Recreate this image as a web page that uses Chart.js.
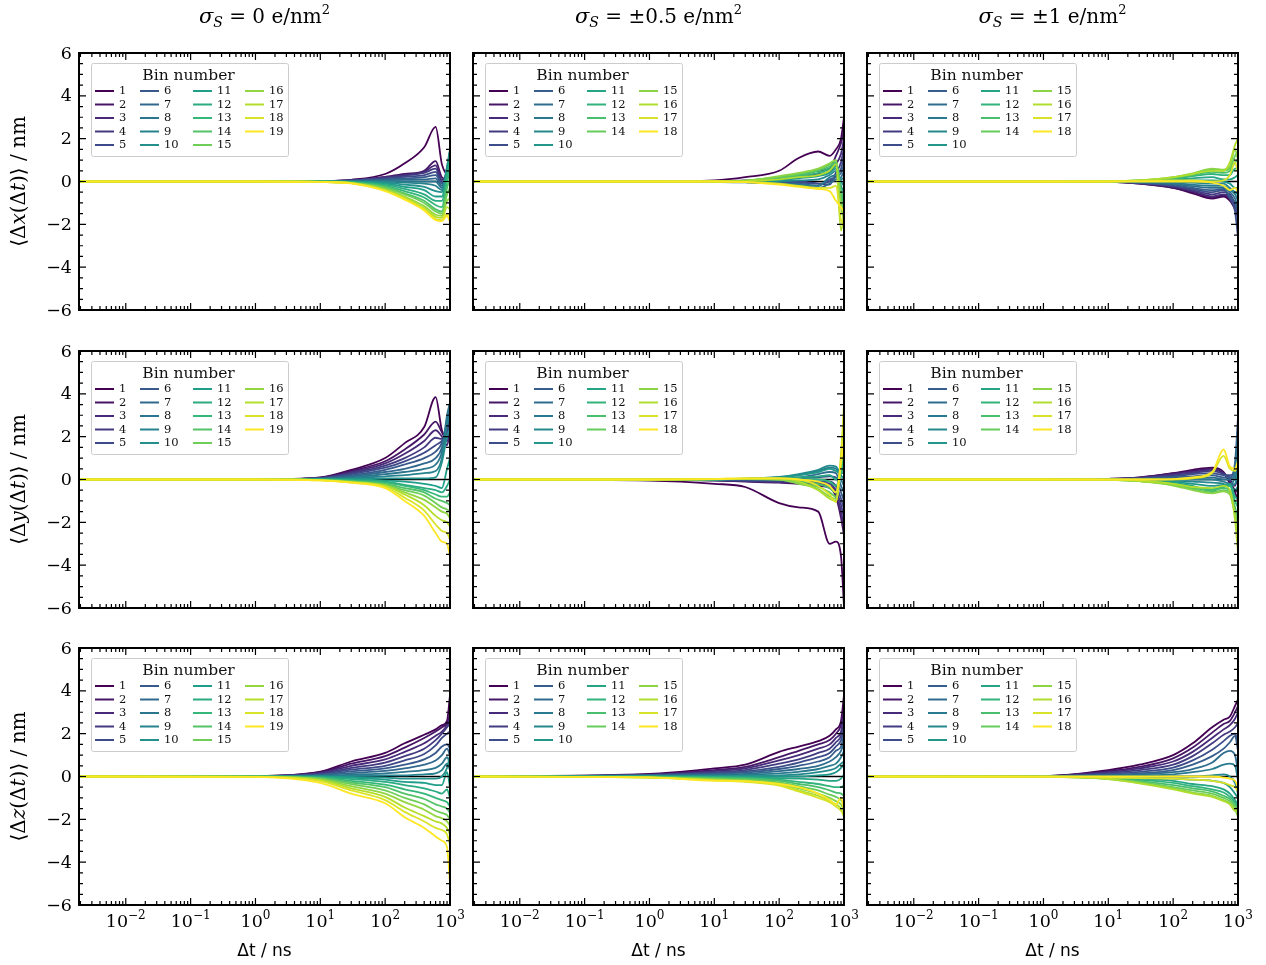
<!DOCTYPE html>
<html>
<head>
<meta charset="utf-8">
<script src="https://cdn.jsdelivr.net/npm/chart.js@4.4.0/dist/chart.umd.min.js"></script>
<style>
  html, body { margin: 0; padding: 0; background: #fff; }
  #fig { position: relative; width: 1266px; height: 965px; overflow: hidden; }
  #fig canvas { position: absolute; }
</style>
</head>
<body>
<div id="fig"></div>
<script>
const T = [0.002, 1, 10, 30, 100, 200, 400, 600, 750, 900, 1000];

// <dx(dt)>, one row per bin
const dxS0 = [
  [0, 0, 0.02, 0.08, 0.35, 0.85, 1.6, 2.55, 0.8, 0.3, 0.2],
  [0, 0, 0.02, 0.06, 0.22, 0.35, 0.5, 0.95, 0.2, 0.1, 0.5],
  [0, 0, 0.02, 0.05, 0.2, 0.3, 0.45, 0.75, 0.1, 0.2, 0.6],
  [0, 0, 0.01, 0.05, 0.18, 0.28, 0.4, 0.6, 0.0, 0.3, 0.8],
  [0, 0, 0.01, 0.04, 0.15, 0.22, 0.3, 0.45, -0.1, 0.4, 1.0],
  [0, 0, 0.01, 0.03, 0.1, 0.15, 0.2, 0.3, -0.1, 0.5, 1.2],
  [0, 0, 0.01, 0.02, 0.06, 0.1, 0.1, 0.15, -0.2, 0.6, 1.3],
  [0, 0, 0, 0.01, 0.03, 0.02, 0.0, 0.0, -0.3, 0.6, 1.4],
  [0, 0, 0, 0, 0, -0.05, -0.1, -0.2, -0.4, 0.7, 1.5],
  [0, 0, 0, -0.01, -0.05, -0.15, -0.25, -0.45, -0.5, 0.6, 1.4],
  [0, 0, 0, -0.02, -0.1, -0.25, -0.4, -0.7, -0.7, 0.5, 1.3],
  [0, 0, 0, -0.03, -0.15, -0.35, -0.6, -0.9, -0.9, 0.3, 1.0],
  [0, 0, -0.01, -0.04, -0.2, -0.45, -0.75, -1.1, -1.2, 0.0, 0.6],
  [0, 0, -0.01, -0.05, -0.25, -0.55, -0.9, -1.3, -1.4, -0.3, 0.2],
  [0, 0, -0.01, -0.06, -0.3, -0.6, -1.0, -1.4, -1.5, -0.6, -0.3],
  [0, 0, -0.02, -0.07, -0.35, -0.7, -1.15, -1.55, -1.6, -0.9, -0.8],
  [0, 0, -0.02, -0.08, -0.4, -0.75, -1.25, -1.65, -1.7, -1.2, -1.3],
  [0, 0, -0.02, -0.08, -0.42, -0.8, -1.3, -1.75, -1.8, -1.5, -1.6],
  [0, 0, -0.02, -0.09, -0.45, -0.85, -1.35, -1.8, -1.85, -1.6, -1.9]
];
const dxS05 = [
  [0, 0, 0.05, 0.2, 0.5, 1.1, 1.4, 1.2, 1.5, 2.0, 3.0],
  [0, 0, 0.02, 0.05, 0.15, 0.3, 0.5, 0.6, 1.2, 1.8, 2.4],
  [0, 0, 0.01, 0.03, 0.1, 0.2, 0.35, 0.45, 0.8, 1.3, 2.0],
  [0, 0, 0, 0, 0, 0, -0.1, -0.15, 0.4, 0.9, 1.6],
  [0, 0, -0.02, -0.03, -0.05, -0.05, -0.1, 0, 0.3, 0.6, 1.2],
  [0, 0, -0.02, -0.03, -0.08, -0.1, -0.2, 0.1, 0.2, 0.4, 0.8],
  [0, 0, -0.02, -0.04, -0.1, -0.15, -0.3, -0.1, 0.1, 0.2, 0.5],
  [0, 0, -0.02, -0.03, -0.1, -0.15, -0.2, 0.2, 0.3, 0.1, 0.2],
  [0, 0, -0.01, -0.02, 0, 0.05, 0.1, 0.3, 0.5, 0, -0.2],
  [0, 0, 0, 0, 0.05, 0.15, 0.25, 0.4, 0.6, -0.2, -0.5],
  [0, 0, 0, 0.02, 0.1, 0.2, 0.3, 0.5, 0.7, -0.5, -0.8],
  [0, 0, 0, 0.03, 0.15, 0.25, 0.4, 0.6, 0.8, -0.6, -1.0],
  [0, 0, 0, 0.03, 0.2, 0.3, 0.5, 0.7, 0.9, -0.4, -1.2],
  [0, 0, 0.01, 0.04, 0.2, 0.35, 0.55, 0.8, 1.0, -0.8, -1.5],
  [0, 0, 0.01, 0.04, 0.25, 0.4, 0.6, 0.85, 1.0, -1.2, -1.8],
  [0, 0, 0, 0.02, 0.1, 0.2, 0.3, 0.5, 0.8, -2.3, -1.5],
  [0, 0, 0, -0.02, -0.1, -0.2, -0.3, -0.3, -0.2, -1.8, -2.0],
  [0, 0, 0, -0.03, -0.15, -0.25, -0.35, -0.45, -0.9, -1.2, -1.4]
];
const dxS1 = [
  [0, 0, -0.02, -0.1, -0.3, -0.55, -0.8, -0.7, -0.9, -1.3, -1.6],
  [0, 0, -0.02, -0.1, -0.3, -0.5, -0.75, -0.65, -0.8, -1.2, -1.4],
  [0, 0, -0.02, -0.08, -0.25, -0.45, -0.7, -0.6, -0.7, -1.0, -1.2],
  [0, 0, -0.02, -0.07, -0.22, -0.4, -0.6, -0.5, -0.6, -1.1, -1.8],
  [0, 0, -0.01, -0.06, -0.2, -0.35, -0.5, -0.4, -0.8, -1.4, -2.6],
  [0, 0, -0.01, -0.05, -0.15, -0.3, -0.4, -0.35, -0.7, -1.0, -1.5],
  [0, 0, -0.01, -0.04, -0.12, -0.22, -0.3, -0.3, -0.5, -0.8, -1.2],
  [0, 0, 0, -0.02, -0.08, -0.15, -0.2, -0.2, -0.4, -0.6, -0.9],
  [0, 0, 0, -0.01, -0.03, -0.05, -0.1, -0.1, -0.3, -0.5, -0.6],
  [0, 0, 0, 0, 0.02, 0.05, 0.05, 0, -0.1, -0.3, -0.3],
  [0, 0, 0, 0.02, 0.08, 0.15, 0.2, 0.1, 0.1, 0.2, 0.3],
  [0, 0, 0.01, 0.03, 0.12, 0.25, 0.35, 0.3, 0.3, 0.6, 0.6],
  [0, 0, 0.01, 0.04, 0.15, 0.3, 0.45, 0.4, 0.5, 0.9, 1.0],
  [0, 0, 0.01, 0.05, 0.18, 0.35, 0.55, 0.5, 0.6, 1.2, 1.4],
  [0, 0, 0.01, 0.05, 0.2, 0.38, 0.6, 0.55, 0.7, 1.5, 1.0],
  [0, 0, 0.01, 0.05, 0.2, 0.35, 0.5, 0.5, 0.9, 1.7, 2.0],
  [0, 0, 0, 0.02, 0.05, 0.05, 0, 0.05, 0.3, 0.9, 0.4],
  [0, 0, 0, 0, 0, 0, -0.05, -0.2, -0.4, -0.3, -0.5]
];

// <dy(dt)>
const dyS0 = [
  [0, 0, 0.1, 0.45, 1.0, 1.7, 2.45, 3.85, 2.3, 2.0, 2.5],
  [0, 0, 0.09, 0.4, 0.85, 1.4, 2.1, 2.7, 2.2, 1.8, 2.0],
  [0, 0, 0.08, 0.35, 0.75, 1.2, 1.8, 2.3, 2.0, 1.6, 2.2],
  [0, 0, 0.07, 0.3, 0.65, 1.0, 1.5, 1.95, 1.9, 1.9, 2.6],
  [0, 0, 0.06, 0.25, 0.55, 0.85, 1.25, 1.6, 1.8, 2.2, 3.0],
  [0, 0, 0.05, 0.2, 0.45, 0.7, 1.0, 1.3, 1.7, 2.5, 3.2],
  [0, 0, 0.04, 0.15, 0.35, 0.5, 0.75, 1.0, 1.5, 2.8, 3.5],
  [0, 0, 0.03, 0.1, 0.25, 0.35, 0.5, 0.7, 1.3, 3.0, 3.6],
  [0, 0, 0.02, 0.06, 0.15, 0.2, 0.3, 0.4, 1.0, 2.6, 3.0],
  [0, 0, 0.01, 0.03, 0.05, 0.05, 0.05, 0.1, 0.8, 2.0, 2.4],
  [0, 0, 0, 0, -0.05, -0.1, -0.2, -0.3, -0.4, 0.5, 1.0],
  [0, 0, 0, -0.03, -0.1, -0.25, -0.4, -0.5, -0.6, -0.3, 0.0],
  [0, 0, -0.01, -0.05, -0.15, -0.3, -0.5, -0.7, -0.8, -0.8, -0.6],
  [0, 0, -0.02, -0.08, -0.2, -0.4, -0.6, -0.9, -1.0, -1.1, -1.2],
  [0, 0, -0.02, -0.1, -0.25, -0.5, -0.75, -1.1, -1.3, -1.4, -1.5],
  [0, 0, -0.03, -0.12, -0.28, -0.6, -0.95, -1.3, -1.5, -1.6, -1.8],
  [0, 0, -0.03, -0.13, -0.3, -0.7, -1.2, -1.7, -1.9, -2.0, -2.2],
  [0, 0, -0.04, -0.14, -0.35, -0.85, -1.45, -2.1, -2.4, -2.5, -2.8],
  [0, 0, -0.04, -0.15, -0.4, -1.0, -1.7, -2.5, -2.9, -3.0, -3.6]
];
const dyS05 = [
  [0, -0.05, -0.2, -0.35, -1.1, -1.3, -1.5, -3.0, -2.9, -3.6, -5.9],
  [0, 0, -0.05, -0.1, -0.15, -0.2, -0.3, -0.4, -0.8, -1.8, -2.6],
  [0, 0, -0.04, -0.08, -0.12, -0.15, -0.2, -0.3, -0.6, -1.5, -2.2],
  [0, 0, -0.03, -0.06, -0.1, -0.1, -0.15, -0.2, -0.5, -1.2, -1.8],
  [0, 0, -0.02, -0.04, -0.05, -0.05, -0.1, -0.1, -0.3, -0.9, -1.4],
  [0, 0, -0.01, 0, 0, 0.05, 0.1, 0.15, 0.1, -0.6, -1.0],
  [0, 0, 0, 0.02, 0.05, 0.1, 0.25, 0.35, 0.3, -0.3, -0.6],
  [0, 0, 0, 0.03, 0.1, 0.2, 0.4, 0.55, 0.5, 0, -0.3],
  [0, 0, 0.01, 0.04, 0.12, 0.25, 0.45, 0.65, 0.6, 0.2, 0],
  [0, 0, 0.01, 0.04, 0.1, 0.2, 0.35, 0.5, 0.4, 0.3, 0.3],
  [0, 0, 0.01, 0.03, 0.05, 0.1, 0.15, 0.2, 0.0, 0.3, 0.6],
  [0, 0, 0.01, 0.02, 0.02, 0, 0, -0.1, -0.3, 0.4, 1.0],
  [0, 0, 0.01, 0.02, 0, -0.1, -0.2, -0.4, -0.6, 0.5, 1.5],
  [0, 0, 0.01, 0.02, 0, -0.15, -0.35, -0.6, -0.8, 0.6, 2.0],
  [0, 0, 0.02, 0.03, 0, -0.2, -0.45, -0.8, -0.9, 0.8, 2.5],
  [0, 0, 0.02, 0.04, 0.05, -0.1, -0.5, -0.9, -1.0, 1.0, 3.0],
  [0, 0, 0.02, 0.05, 0.05, 0, -0.3, -0.7, -1.05, 1.2, 3.5],
  [0, 0, 0.02, 0.05, 0.05, 0, -0.1, -0.3, -0.6, 0.8, 2.0]
];
const dyS1 = [
  [0, 0, 0.03, 0.1, 0.3, 0.45, 0.55, 0.35, -0.2, -0.6, -1.0],
  [0, 0, 0.03, 0.09, 0.28, 0.4, 0.5, 0.3, -0.1, -0.5, -0.6],
  [0, 0, 0.02, 0.08, 0.25, 0.35, 0.45, 0.3, 0, -0.3, 0.2],
  [0, 0, 0.02, 0.07, 0.2, 0.3, 0.4, 0.25, 0.1, 0, 1.0],
  [0, 0, 0.02, 0.05, 0.15, 0.25, 0.3, 0.2, 0.2, 0.5, 2.0],
  [0, 0, 0.01, 0.04, 0.1, 0.15, 0.2, 0.1, 0.1, 0.8, 2.9],
  [0, 0, 0.01, 0.02, 0.05, 0.05, 0.1, 0, 0, 0.5, 2.4],
  [0, 0, 0, 0, 0, 0, 0, -0.1, -0.2, 0.2, 1.5],
  [0, 0, 0, -0.02, -0.05, -0.1, -0.15, -0.2, -0.3, -0.2, 0.5],
  [0, 0, 0, -0.03, -0.1, -0.2, -0.3, -0.25, -0.3, -0.5, -0.3],
  [0, 0, -0.01, -0.05, -0.15, -0.3, -0.55, -0.3, -0.2, -0.8, -0.9],
  [0, 0, -0.01, -0.06, -0.2, -0.35, -0.45, -0.35, -0.3, -1.0, -1.3],
  [0, 0, -0.02, -0.07, -0.22, -0.4, -0.5, -0.4, -0.5, -1.3, -1.8],
  [0, 0, -0.02, -0.08, -0.25, -0.45, -0.6, -0.5, -0.6, -1.5, -2.2],
  [0, 0, -0.02, -0.08, -0.28, -0.5, -0.65, -0.55, -0.7, -1.7, -2.6],
  [0, 0, -0.02, -0.07, -0.2, -0.35, -0.4, -0.3, -0.5, -1.9, -3.4],
  [0, 0, 0, 0, 0, 0.05, 0.3, 1.1, 0.5, 0.4, 0.7],
  [0, 0, 0, 0, 0.02, 0.1, 0.35, 1.4, 0.6, 0.5, 0.9]
];

// <dz(dt)>
const dzS0 = [
  [0, 0.02, 0.23, 0.7, 1.1, 1.55, 1.95, 2.2, 2.4, 2.6, 3.8],
  [0, 0.02, 0.2, 0.6, 0.95, 1.35, 1.8, 2.1, 2.3, 2.5, 2.9],
  [0, 0.02, 0.17, 0.5, 0.8, 1.15, 1.55, 1.9, 2.1, 2.4, 2.7],
  [0, 0.01, 0.14, 0.4, 0.65, 0.95, 1.3, 1.7, 2.0, 2.3, 2.5],
  [0, 0.01, 0.11, 0.32, 0.5, 0.75, 1.05, 1.45, 1.8, 2.0, 2.1],
  [0, 0.01, 0.08, 0.24, 0.38, 0.55, 0.8, 1.1, 1.4, 1.5, 1.3],
  [0, 0.01, 0.06, 0.16, 0.26, 0.38, 0.55, 0.75, 1.0, 1.3, 1.0],
  [0, 0, 0.03, 0.09, 0.15, 0.22, 0.3, 0.4, 0.6, 0.9, 0.6],
  [0, 0, 0.01, 0.03, 0.05, 0.05, 0.1, 0.15, 0.3, 0.6, 0.3],
  [0, 0, 0, -0.02, -0.05, -0.1, -0.1, -0.1, 0, 0.4, 1.0],
  [0, 0, -0.01, -0.06, -0.15, -0.25, -0.3, -0.4, -0.4, 0.2, -0.5],
  [0, 0, -0.03, -0.12, -0.25, -0.4, -0.55, -0.7, -0.8, -0.6, -1.0],
  [0, -0.01, -0.05, -0.2, -0.38, -0.6, -0.8, -1.0, -1.1, -1.2, -1.4],
  [0, -0.01, -0.08, -0.28, -0.5, -0.8, -1.05, -1.3, -1.4, -1.5, -1.7],
  [0, -0.01, -0.11, -0.36, -0.65, -1.0, -1.3, -1.6, -1.7, -1.8, -2.0],
  [0, -0.01, -0.14, -0.45, -0.8, -1.2, -1.55, -1.85, -1.95, -2.1, -2.3],
  [0, -0.02, -0.18, -0.55, -0.95, -1.45, -1.85, -2.1, -2.2, -2.4, -2.7],
  [0, -0.02, -0.22, -0.65, -1.1, -1.65, -2.1, -2.4, -2.5, -2.7, -3.2],
  [0, -0.02, -0.3, -0.8, -1.25, -1.9, -2.4, -2.8, -3.0, -3.3, -5.0]
];
const dzS05 = [
  [0, 0.12, 0.38, 0.55, 1.15, 1.4, 1.65, 1.9, 2.2, 2.6, 3.8],
  [0, 0.1, 0.3, 0.45, 0.9, 1.2, 1.5, 1.7, 2.0, 2.4, 3.2],
  [0, 0.08, 0.25, 0.38, 0.75, 1.0, 1.3, 1.5, 1.8, 2.1, 2.9],
  [0, 0.07, 0.2, 0.3, 0.6, 0.8, 1.1, 1.3, 1.6, 1.9, 2.6],
  [0, 0.06, 0.16, 0.24, 0.45, 0.65, 0.9, 1.1, 1.4, 1.7, 2.3],
  [0, 0.05, 0.12, 0.18, 0.35, 0.5, 0.7, 0.9, 1.2, 1.4, 2.0],
  [0, 0.04, 0.08, 0.12, 0.25, 0.35, 0.5, 0.7, 0.9, 1.2, 1.6],
  [0, 0.03, 0.05, 0.08, 0.15, 0.22, 0.35, 0.5, 0.6, 0.9, 1.2],
  [0, 0.01, 0.02, 0.03, 0.05, 0.1, 0.2, 0.3, 0.4, 0.6, 0.7],
  [0, 0, 0, 0, 0, 0, 0.05, 0.1, 0.2, 0.4, 0.6],
  [0, 0, -0.02, -0.03, -0.08, -0.1, -0.15, -0.2, -0.2, -0.1, 0.1],
  [0, -0.01, -0.04, -0.06, -0.15, -0.25, -0.35, -0.45, -0.5, -0.5, -0.4],
  [0, -0.02, -0.07, -0.1, -0.2, -0.35, -0.5, -0.65, -0.75, -0.8, -0.9],
  [0, -0.03, -0.1, -0.14, -0.28, -0.45, -0.65, -0.85, -0.95, -1.1, -1.3],
  [0, -0.04, -0.13, -0.18, -0.33, -0.55, -0.8, -1.0, -1.15, -1.3, -1.6],
  [0, -0.05, -0.16, -0.22, -0.38, -0.65, -0.9, -1.15, -1.3, -1.5, -1.9],
  [0, -0.05, -0.18, -0.25, -0.42, -0.7, -1.0, -1.2, -1.4, -1.6, -1.8],
  [0, -0.04, -0.2, -0.22, -0.35, -0.5, -0.8, -1.1, -1.3, -1.0, -1.6]
];
const dzS1 = [
  [0, 0.02, 0.3, 0.55, 1.0, 1.55, 2.3, 2.65, 2.8, 3.3, 3.6],
  [0, 0.02, 0.25, 0.45, 0.85, 1.35, 2.05, 2.45, 2.6, 3.0, 3.3],
  [0, 0.02, 0.2, 0.38, 0.7, 1.15, 1.8, 2.2, 2.4, 2.7, 3.0],
  [0, 0.01, 0.16, 0.3, 0.55, 0.95, 1.55, 1.95, 2.1, 2.3, 2.5],
  [0, 0.01, 0.12, 0.22, 0.42, 0.75, 1.25, 1.65, 1.9, 2.0, 1.6],
  [0, 0.01, 0.08, 0.15, 0.3, 0.55, 0.95, 1.3, 1.6, 1.9, 1.2],
  [0, 0.01, 0.05, 0.1, 0.2, 0.35, 0.65, 1.1, 1.2, 1.0, 0.2],
  [0, 0, 0.02, 0.05, 0.1, 0.2, 0.35, 0.55, 0.6, 0.5, -0.2],
  [0, 0, 0, 0, 0, 0, 0.05, 0.1, 0, -0.3, -0.8],
  [0, 0, -0.02, -0.05, -0.1, -0.15, -0.2, -0.3, -0.5, -0.8, -1.0],
  [0, 0, -0.04, -0.1, -0.2, -0.35, -0.45, -0.6, -0.8, -1.1, -1.3],
  [0, -0.01, -0.06, -0.15, -0.3, -0.45, -0.6, -0.75, -0.95, -1.2, -1.5],
  [0, -0.01, -0.08, -0.2, -0.4, -0.55, -0.7, -0.9, -1.05, -1.3, -1.6],
  [0, -0.01, -0.1, -0.25, -0.5, -0.65, -0.8, -1.0, -1.15, -1.4, -1.7],
  [0, -0.02, -0.12, -0.3, -0.55, -0.75, -0.9, -1.1, -1.25, -1.55, -1.9],
  [0, -0.02, -0.12, -0.32, -0.6, -0.8, -0.95, -1.15, -1.3, -1.6, -1.5],
  [0, -0.01, -0.05, -0.08, -0.1, -0.15, -0.2, -0.3, -0.4, -0.5, -0.7],
  [0, 0, 0, 0, 0, 0, 0, -0.05, -0.1, -0.2, -0.5]
];

const PANELS = [
  [dxS0, dxS05, dxS1],
  [dyS0, dyS05, dyS1],
  [dzS0, dzS05, dzS1]
];
const SIGMA_VALUES = ['0', '\u00b10.5', '\u00b11'];
const AXIS_NAMES = ['x', 'y', 'z'];
const X_MAJOR = [0.01, 0.1, 1, 10, 100, 1000];
const X_EXP = ['\u22122', '\u22121', '0', '1', '2', '3'];
const Y_MAJOR = [-6, -4, -2, 0, 2, 4, 6];
const Y_LABELS = ['\u22126', '\u22124', '\u22122', '0', '2', '4', '6'];

const VIRIDIS = ['#440154', '#482878', '#3e4989', '#31688e', '#26828e',
                 '#1f9e89', '#35b779', '#6ece58', '#b5de2b', '#fde725'];

const SERIF = '"DejaVu Serif", serif';
const SANS = '"DejaVu Sans", sans-serif';

// layout (pixels)
const COL_X = [79, 473, 867];
const ROW_Y = [53, 351, 648];
const PLOT_W = 371;
const PLOT_H = 257;

function hexRgb(h) {
  return [1, 3, 5].map(i => parseInt(h.substr(i, 2), 16));
}

function viridis(f) {
  const p = f * (VIRIDIS.length - 1);
  const i = Math.min(Math.floor(p), VIRIDIS.length - 2);
  const k = p - i;
  const a = hexRgb(VIRIDIS[i]), b = hexRgb(VIRIDIS[i + 1]);
  const c = a.map((v, j) => Math.round(v + (b[j] - v) * k));
  return `rgb(${c[0]},${c[1]},${c[2]})`;
}

function drawRuns(ctx, runs, x, y) {
  let total = 0;
  runs.forEach(r => { ctx.font = r.font; r.w = ctx.measureText(r.t).width; total += r.w; });
  let cx = x - total / 2;
  ctx.textAlign = 'left';
  runs.forEach(r => { ctx.font = r.font; ctx.fillText(r.t, cx, y + (r.dy || 0)); cx += r.w; });
}

const decor = {
  id: 'decor',
  afterDatasetsDraw(chart, args, opts) {
    const { ctx, chartArea: a, scales: { x, y } } = chart;
    const row = opts.row, col = opts.col;
    ctx.save();

    // inward ticks on all four sides
    ctx.strokeStyle = '#000';
    ctx.lineWidth = 1.2;
    ctx.beginPath();
    const xMinor = [];
    [0.001, 0.01, 0.1, 1, 10, 100].forEach(d => {
      for (let m = 2; m <= 9; m++) xMinor.push(d * m);
    });
    const xTick = (v, len) => {
      const px = x.getPixelForValue(v);
      if (px < a.left - 0.5 || px > a.right + 0.5) return;
      ctx.moveTo(px, a.bottom); ctx.lineTo(px, a.bottom - len);
      ctx.moveTo(px, a.top); ctx.lineTo(px, a.top + len);
    };
    const yTick = (v, len) => {
      const py = y.getPixelForValue(v);
      ctx.moveTo(a.left, py); ctx.lineTo(a.left + len, py);
      ctx.moveTo(a.right, py); ctx.lineTo(a.right - len, py);
    };
    X_MAJOR.forEach(v => xTick(v, 7));
    xMinor.forEach(v => xTick(v, 4));
    for (let v = -6; v <= 6; v += 0.5) yTick(v, v % 2 === 0 ? 7 : 4);
    ctx.stroke();

    // frame
    ctx.lineWidth = 2;
    ctx.strokeRect(a.left, a.top, a.right - a.left, a.bottom - a.top);

    // legend
    const ds = chart.data.datasets.filter(d => !d.isZero);
    const n = ds.length;
    const bx = a.left + 12, by = a.top + 10, bw = 197, bh = 93;
    ctx.fillStyle = 'rgba(255,255,255,0.8)';
    ctx.strokeStyle = '#cccccc';
    ctx.lineWidth = 1;
    ctx.beginPath();
    ctx.roundRect(bx + 0.5, by + 0.5, bw, bh, 2);
    ctx.fill();
    ctx.stroke();
    ctx.fillStyle = '#111';
    ctx.textBaseline = 'middle';
    ctx.textAlign = 'center';
    ctx.font = `15.5px ${SERIF}`;
    ctx.fillText('Bin number', bx + bw / 2 - 1, by + 13);
    const colOff = [4, 49, 102, 154];
    const nrows = Math.ceil(n / 4);
    const full = n % 4 === 0 ? 4 : n % 4;
    let idx = 0;
    ctx.font = `11.5px ${SERIF}`;
    ctx.textAlign = 'left';
    for (let c = 0; c < 4; c++) {
      const cnt = c < full ? nrows : nrows - 1;
      for (let r = 0; r < cnt; r++, idx++) {
        const d = ds[idx];
        const hx = bx + colOff[c], hy = by + 28 + r * 13.5;
        ctx.strokeStyle = d.borderColor;
        ctx.lineWidth = 2;
        ctx.beginPath();
        ctx.moveTo(hx, hy); ctx.lineTo(hx + 19, hy);
        ctx.stroke();
        ctx.fillStyle = '#111';
        ctx.fillText(d.label, hx + 24, hy + 0.5);
      }
    }

    ctx.fillStyle = '#000';
    // y tick labels and y title on the first column
    if (col === 0) {
      ctx.textBaseline = 'middle';
      ctx.textAlign = 'right';
      ctx.font = `17.5px ${SERIF}`;
      Y_MAJOR.forEach((v, i) => ctx.fillText(Y_LABELS[i], a.left - 7, y.getPixelForValue(v) + 1));
      ctx.save();
      ctx.translate(a.left - 59, (a.top + a.bottom) / 2);
      ctx.rotate(-Math.PI / 2);
      const f = `20px ${SERIF}`, fi = `italic 20px ${SERIF}`;
      drawRuns(ctx, [
        { t: '\u27e8\u0394', font: f }, { t: AXIS_NAMES[row], font: fi },
        { t: '(\u0394', font: f }, { t: 't', font: fi }, { t: ')\u27e9 / nm', font: f }
      ], 0, 0);
      ctx.restore();
    }
    // x tick labels and x title on the bottom row
    if (row === 2) {
      ctx.textBaseline = 'alphabetic';
      X_MAJOR.forEach((v, i) => {
        drawRuns(ctx, [
          { t: '10', font: `17.5px ${SERIF}` },
          { t: X_EXP[i], font: `12px ${SERIF}`, dy: -8 }
        ], x.getPixelForValue(v), a.bottom + 22);
      });
      drawRuns(ctx, [{ t: '\u0394t / ns', font: `17px ${SANS}` }], (a.left + a.right) / 2, a.bottom + 51);
    }
    // column title on the top row
    if (row === 0) {
      ctx.textBaseline = 'alphabetic';
      drawRuns(ctx, [
        { t: '\u03c3', font: `italic 21px ${SERIF}` },
        { t: 'S', font: `italic 14px ${SERIF}`, dy: 4 },
        { t: ' = ' + SIGMA_VALUES[col] + ' e/nm', font: `20px ${SERIF}` },
        { t: '2', font: `13px ${SERIF}`, dy: -9 }
      ], (a.left + a.right) / 2, a.top - 30);
    }
    ctx.restore();
  }
};

function makeDatasets(vals) {
  const n = vals.length;
  const ds = vals.map((ys, i) => ({
    label: String(i + 1),
    data: T.map((t, j) => ({ x: t, y: ys[j] })),
    borderColor: viridis(i / (n - 1)),
    borderWidth: 1.8,
    pointRadius: 0,
    cubicInterpolationMode: 'monotone',
    order: -i
  }));
  ds.push({
    label: '',
    isZero: true,
    data: [{ x: T[0], y: 0 }, { x: T[T.length - 1], y: 0 }],
    borderColor: '#000',
    borderWidth: 1.5,
    pointRadius: 0,
    order: 1000
  });
  return ds;
}

const fig = document.getElementById('fig');
for (let r = 0; r < 3; r++) {
  for (let c = 0; c < 3; c++) {
    const padL = c === 0 ? 79 : 12;
    const padR = 22;
    const padT = r === 0 ? 53 : 12;
    const padB = r === 2 ? 60 : 12;
    const w = padL + PLOT_W + padR;
    const h = padT + PLOT_H + padB;
    const cv = document.createElement('canvas');
    cv.width = w; cv.height = h;
    cv.style.width = w + 'px'; cv.style.height = h + 'px';
    cv.style.left = (COL_X[c] - padL) + 'px';
    cv.style.top = (ROW_Y[r] - padT) + 'px';
    fig.appendChild(cv);

    new Chart(cv.getContext('2d'), {
      type: 'line',
      data: { datasets: makeDatasets(PANELS[r][c]) },
      options: {
        responsive: false,
        animation: false,
        devicePixelRatio: 1,
        layout: { padding: { left: padL, right: padR, top: padT, bottom: padB } },
        scales: {
          x: { type: 'logarithmic', min: 0.0019, max: 1000, display: false },
          y: { type: 'linear', min: -6, max: 6, display: false }
        },
        plugins: {
          legend: { display: false },
          tooltip: { enabled: false },
          decor: { row: r, col: c }
        }
      },
      plugins: [decor]
    });
  }
}
</script>
</body>
</html>
